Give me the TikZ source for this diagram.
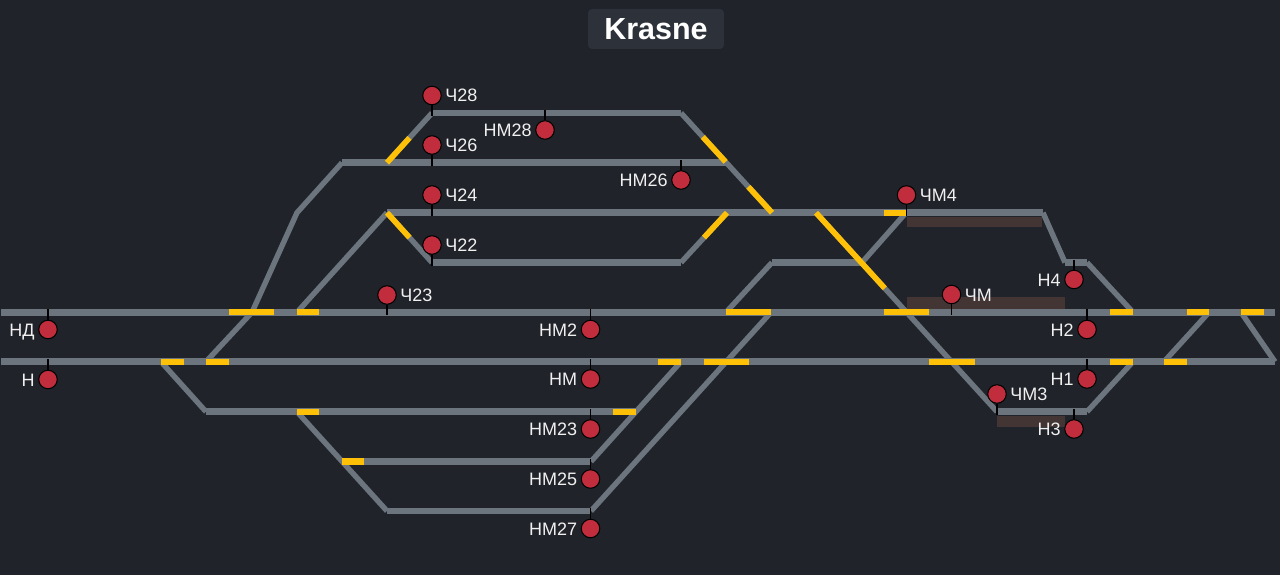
\documentclass[tikz,border=0pt]{standalone}
\usepackage{fontspec}
\setmainfont{Liberation Sans}
\usetikzlibrary{positioning, calc}

\definecolor{panelbg}{HTML}{202329}
\definecolor{titlebg}{HTML}{2D3139}
\definecolor{trackgray}{HTML}{6C757D}
\definecolor{switchyellow}{HTML}{FFC107}
\definecolor{signalred}{HTML}{C22D3D}
\definecolor{platebrown}{HTML}{443535}

\begin{document}
\begin{tikzpicture}[
	x=1pt, y=-1pt,
	% Define styles
	titlebox/.style={rectangle, rounded corners=4pt, fill=titlebg, text=white, minimum width=136pt, minimum height=40pt, font=\fontsize{30.5}{32}\selectfont\bfseries},
	track/.style={draw=trackgray, line width=6.8pt},
	branch/.style={draw=trackgray, line width=5.4pt},
	switchh/.style={draw=switchyellow, line width=6.2pt},
	switchd/.style={draw=switchyellow, line width=5.6pt},
	plate/.style={fill=platebrown},
	signal/.style={circle, draw=black, fill=signalred, line width=1pt, minimum size=18.5pt, inner sep=0pt},
	sigtext/.style={inner sep=0pt, text=white!94!black, text height=13pt, text depth=0pt, font=\fontsize{18}{20}\selectfont},
	sigtick/.style={draw=black, line width=1.5pt},
	node distance=3.4pt
	]
	
	% Background
	\path[fill=panelbg, use as bounding box] (0,0) rectangle (1280,575);
	\node[titlebox] (title) at (656,29) {Krasne};
	
	% Track points, one row per y level
	\foreach \x in {432,681} \coordinate (a\x) at (\x,113);
	\foreach \x in {342,387,727} \coordinate (b\x) at (\x,162.7);
	\foreach \x in {297,387,727,772,816,884,906,1043} \coordinate (c\x) at (\x,212.7);
	\foreach \x in {432,681,772,862,1065,1087} \coordinate (d\x) at (\x,262.5);
	\foreach \x in {1,229,252,274,297,319,726,771,884,906,929,997,1065,1110,1133,1187,1209,1241,1264,1275} \coordinate (e\x) at (\x,312.3);
	\foreach \x in {1,161,184,206,229,658,681,704,749,929,975,1110,1133,1164,1187,1275} \coordinate (f\x) at (\x,361.7);
	\foreach \x in {206,297,319,613,636,997,1087} \coordinate (g\x) at (\x,411.7);
	\foreach \x in {342,364,591} \coordinate (h\x) at (\x,461.5);
	\foreach \x in {387,591} \coordinate (i\x) at (\x,511);
	
	% Plates under the tracks
	\fill[plate] (907,216.5) coordinate (p1a) rectangle (1042,226.8) coordinate (p1b);
	\fill[plate] (907,297.3) coordinate (p2a) rectangle (1065,309) coordinate (p2b);
	\fill[plate] (997.3,416) coordinate (p3a) rectangle (1065,426.7) coordinate (p3b);
	
	% Straight tracks
	\draw[track] (a432) -- (a681);
	\draw[track] (b342) -- (b727);
	\draw[track] (c387) -- (c1043);
	\draw[track] (d432) -- (d681);
	\draw[track] (d772) -- (d862);
	\draw[track] (d1065) -- (d1087);
	\draw[track] (e1) -- (e1275);
	\draw[track] (f1) -- (f1275);
	\draw[track] (g206) -- (g636);
	\draw[track] (g997) -- (g1087);
	\draw[track] (h342) -- (h591);
	\draw[track] (i387) -- (i591);
	
	% Diagonal branches
	\draw[branch] (a432) -- (b387);
	\draw[branch] (a681) -- (c772);
	\draw[branch] (b342) -- (c297) -- (e252);
	\draw[branch] (c387) -- (e297);
	\draw[branch] (c387) -- (d432);
	\draw[branch] (d681) -- (c727);
	\draw[branch] (c906) -- (d862);
	\draw[branch] (d772) -- (e726);
	\draw[branch] (c816) -- (g997);
	\draw[branch] (c1043) -- (d1065);
	\draw[branch] (d1087) -- (e1133);
	\draw[branch] (g1087) -- (f1133);
	\draw[branch] (e1209) -- (f1164);
	\draw[branch] (e1241) -- (f1275);
	\draw[branch] (f161) -- (g206);
	\draw[branch] (f206) -- (e252);
	\draw[branch] (g297) -- (i387);
	\draw[branch] (h591) -- (f681);
	\draw[branch] (i591) -- (e771);
	
	% Yellow switch sections
	\draw[switchh] (c884) -- (c906);
	\draw[switchh] (e229) -- (e274);
	\draw[switchh] (e297) -- (e319);
	\draw[switchh] (e726) -- (e771);
	\draw[switchh] (e884) -- (e929);
	\draw[switchh] (e1110) -- (e1133);
	\draw[switchh] (e1187) -- (e1209);
	\draw[switchh] (e1241) -- (e1264);
	\draw[switchh] (f161) -- (f184);
	\draw[switchh] (f206) -- (f229);
	\draw[switchh] (f658) -- (f681);
	\draw[switchh] (f704) -- (f749);
	\draw[switchh] (f929) -- (f975);
	\draw[switchh] (f1110) -- (f1133);
	\draw[switchh] (f1164) -- (f1187);
	\draw[switchh] (g297) -- (g319);
	\draw[switchh] (g613) -- (g636);
	\draw[switchh] (h342) -- (h364);
	\draw[switchd] ($(a432)!.5!(b387)$) -- (b387);
	\draw[switchd] ($(a681)!.24!(c772)$) -- ($(a681)!.49!(c772)$);
	\draw[switchd] ($(a681)!.74!(c772)$) -- (c772);
	\draw[switchd] (c387) -- ($(c387)!.5!(d432)$);
	\draw[switchd] ($(d681)!.5!(c727)$) -- (c727);
	\draw[switchd] (c816) -- ($(c816)!.38!(g997)$);
	
	% Signals
	\node[signal] (ch28) at (432,95.5) {};
	\node[signal] (ch26) at (432,145) {};
	\node[signal] (ch24) at (432,195) {};
	\node[signal] (ch22) at (432,245) {};
	\node[signal] (ch23) at (387,295) {};
	\node[signal] (chm4) at (906.5,195) {};
	\node[signal] (chm) at (951.5,294.5) {};
	\node[signal] (chm3) at (997,394) {};
	\node[signal] (nm28) at (545,130) {};
	\node[signal] (nm26) at (681,180) {};
	\node[signal] (nd) at (48,329.5) {};
	\node[signal] (n) at (48,379.5) {};
	\node[signal] (nm2) at (590.5,329.5) {};
	\node[signal] (nm) at (590.5,379) {};
	\node[signal] (nm23) at (590.5,429) {};
	\node[signal] (nm25) at (590.5,479) {};
	\node[signal] (nm27) at (590.5,528.5) {};
	\node[signal] (n4) at (1074,279.5) {};
	\node[signal] (n2) at (1087,329.5) {};
	\node[signal] (n1) at (1087,379) {};
	\node[signal] (n3) at (1074,429) {};
	
	% Signal ticks down or up to the track
	\draw[sigtick] (ch28) -- ([yshift=-3pt]ch28 |- a432);
	\draw[sigtick] (ch26) -- ([yshift=-3pt]ch26 |- b342);
	\draw[sigtick] (ch24) -- ([yshift=-3pt]ch24 |- c387);
	\draw[sigtick] (ch22) -- ([yshift=-3pt]ch22 |- d432);
	\draw[sigtick] (ch23) -- ([yshift=-3pt]ch23 |- e1);
	\draw[sigtick] (chm4) -- ([yshift=-3pt]chm4 |- c906);
	\draw[sigtick] (chm) -- ([yshift=-3pt]chm |- e1);
	\draw[sigtick] (chm3) -- ([yshift=-3pt]chm3 |- g997);
	\draw[sigtick] (nm28) -- ([yshift=3pt]nm28 |- a432);
	\draw[sigtick] (nm26) -- ([yshift=3pt]nm26 |- b342);
	\draw[sigtick] (nd) -- ([yshift=3pt]nd |- e1);
	\draw[sigtick] (n) -- ([yshift=3pt]n |- f1);
	\draw[sigtick] (nm2) -- ([yshift=3pt]nm2 |- e1);
	\draw[sigtick] (nm) -- ([yshift=3pt]nm |- f1);
	\draw[sigtick] (nm23) -- ([yshift=3pt]nm23 |- g206);
	\draw[sigtick] (nm25) -- ([yshift=3pt]nm25 |- h591);
	\draw[sigtick] (nm27) -- ([yshift=3pt]nm27 |- i591);
	\draw[sigtick] (n4) -- ([yshift=3pt]n4 |- d1065);
	\draw[sigtick] (n2) -- ([yshift=3pt]n2 |- e1);
	\draw[sigtick] (n1) -- ([yshift=3pt]n1 |- f1);
	\draw[sigtick] (n3) -- ([yshift=3pt]n3 |- g997);
	
	% Signal labels
	\node[sigtext, right=of ch28] (ch28t) {Ч28};
	\node[sigtext, right=of ch26] (ch26t) {Ч26};
	\node[sigtext, right=of ch24] (ch24t) {Ч24};
	\node[sigtext, right=of ch22] (ch22t) {Ч22};
	\node[sigtext, right=of ch23] (ch23t) {Ч23};
	\node[sigtext, right=of chm4] (chm4t) {ЧМ4};
	\node[sigtext, right=of chm] (chmt) {ЧМ};
	\node[sigtext, right=of chm3] (chm3t) {ЧМ3};
	\node[sigtext, left=of nm28] (nm28t) {НМ28};
	\node[sigtext, left=of nm26] (nm26t) {НМ26};
	\node[sigtext, left=of nd] (ndt) {НД};
	\node[sigtext, left=of n] (nt) {Н};
	\node[sigtext, left=of nm2] (nm2t) {НМ2};
	\node[sigtext, left=of nm] (nmt) {НМ};
	\node[sigtext, left=of nm23] (nm23t) {НМ23};
	\node[sigtext, left=of nm25] (nm25t) {НМ25};
	\node[sigtext, left=of nm27] (nm27t) {НМ27};
	\node[sigtext, left=of n4] (n4t) {Н4};
	\node[sigtext, left=of n2] (n2t) {Н2};
	\node[sigtext, left=of n1] (n1t) {Н1};
	\node[sigtext, left=of n3] (n3t) {Н3};
	
\end{tikzpicture}
\end{document}
